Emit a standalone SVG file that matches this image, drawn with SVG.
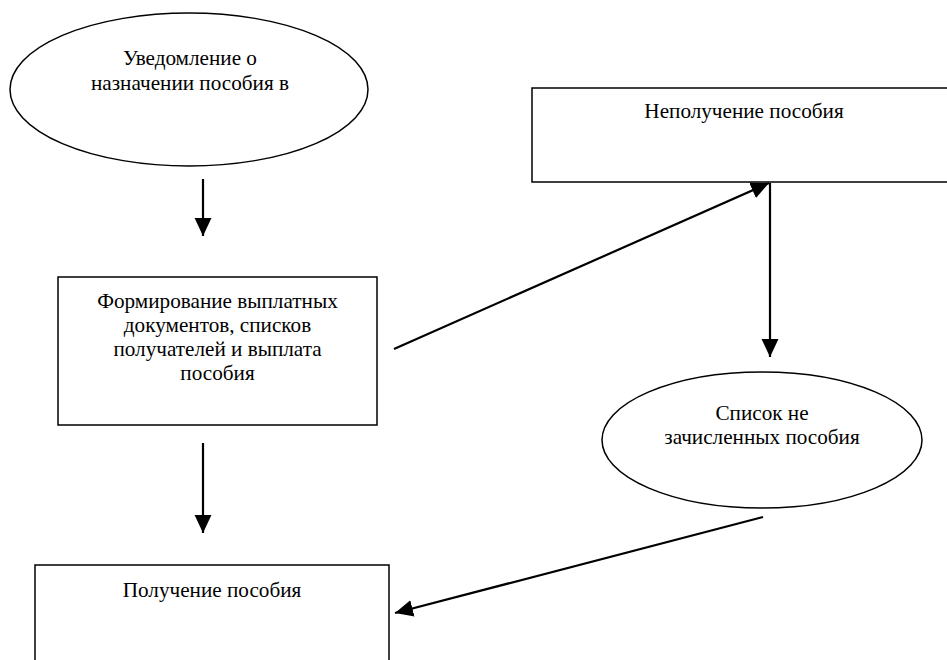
<svg xmlns="http://www.w3.org/2000/svg" width="947" height="660" viewBox="0 0 947 660">
<style>
.shape{fill:#fff;stroke:#000;stroke-width:1.5}
.lbl{font-family:"Liberation Serif","Times New Roman",serif;font-size:21.2px;fill:#000;text-anchor:middle}
.conn{stroke:#000;stroke-width:2.2;fill:none;marker-end:url(#ah)}
</style>
<defs>
<marker id="ah" markerUnits="userSpaceOnUse" markerWidth="18" markerHeight="18" viewBox="0 0 16 16" refX="16" refY="8" orient="auto">
<path d="M0,0.5 L16,8 L0,15.5 Z" fill="#000"/>
</marker>
</defs>
<rect width="947" height="660" fill="#fff"/>
<g id="n1">
<ellipse class="shape" cx="189" cy="89.5" rx="179" ry="76.5"/>
<text class="lbl" x="190" y="65">Уведомление о</text>
<text class="lbl" x="190" y="90">назначении пособия в</text>
</g>
<g id="n2">
<rect class="shape" x="532" y="88" width="420" height="94"/>
<text class="lbl" x="744" y="118">Неполучение пособия</text>
</g>
<g id="n3">
<rect class="shape" x="58" y="277" width="319" height="148"/>
<text class="lbl" x="217.5" y="308">Формирование выплатных</text>
<text class="lbl" x="217.5" y="332">документов, списков</text>
<text class="lbl" x="217.5" y="356">получателей и выплата</text>
<text class="lbl" x="217.5" y="380">пособия</text>
</g>
<g id="n4">
<ellipse class="shape" cx="762" cy="440" rx="160" ry="68"/>
<text class="lbl" x="762" y="420">Список не</text>
<text class="lbl" x="762" y="444">зачисленных пособия</text>
</g>
<g id="n5">
<rect class="shape" x="35" y="565" width="354" height="110"/>
<text class="lbl" x="212" y="597">Получение пособия</text>
</g>
<g id="connectors">
<line class="conn" x1="203" y1="179" x2="203" y2="236"/>
<line class="conn" x1="203" y1="443" x2="203" y2="533"/>
<line class="conn" x1="394" y1="349" x2="769" y2="183"/>
<line class="conn" x1="770" y1="183" x2="770" y2="357"/>
<line class="conn" x1="763" y1="517" x2="395" y2="613"/>
</g>
</svg>
